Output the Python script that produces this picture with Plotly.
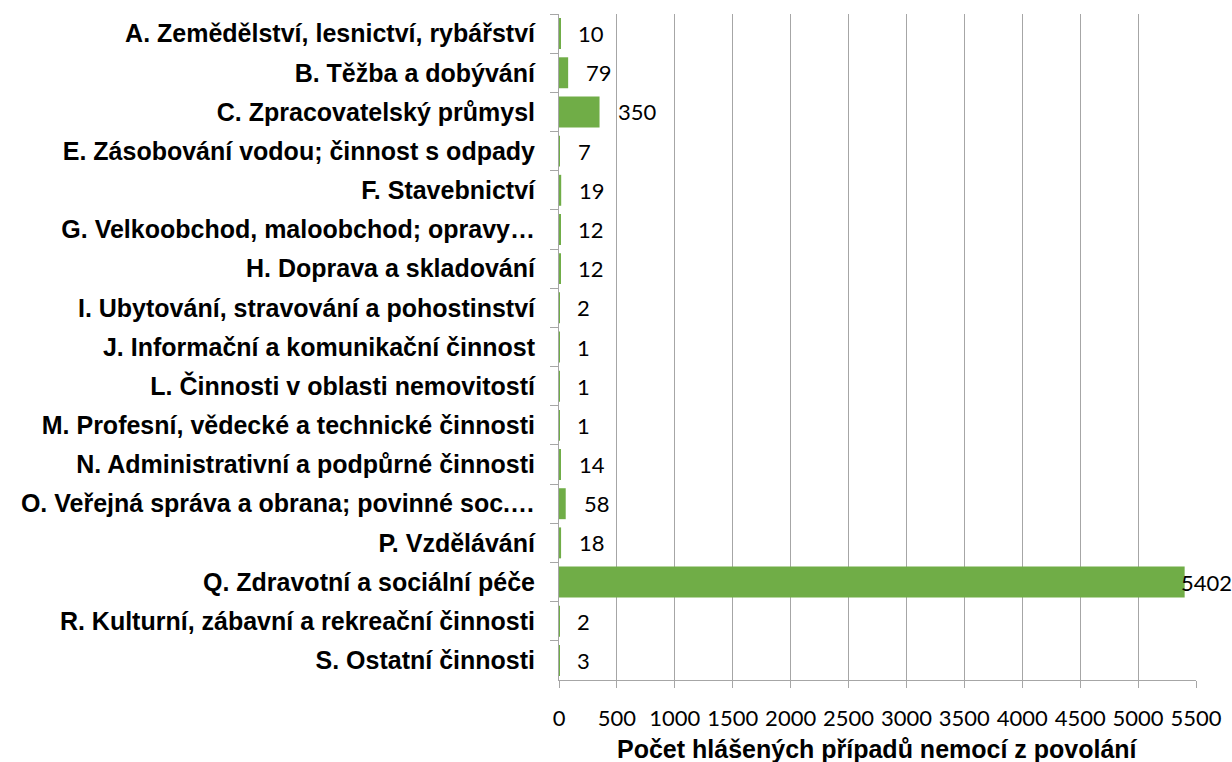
import plotly.graph_objects as go

categories = [
    "A. Zemědělství, lesnictví, rybářství",
    "B. Těžba a dobývání",
    "C. Zpracovatelský průmysl",
    "E. Zásobování vodou; činnost s odpady",
    "F. Stavebnictví",
    "G. Velkoobchod, maloobchod; opravy…",
    "H. Doprava a skladování",
    "I. Ubytování, stravování a pohostinství",
    "J. Informační a komunikační činnost",
    "L. Činnosti v oblasti nemovitostí",
    "M. Profesní, vědecké a technické činnosti",
    "N. Administrativní a podpůrné činnosti",
    "O. Veřejná správa a obrana; povinné soc.…",
    "P. Vzdělávání",
    "Q. Zdravotní a sociální péče",
    "R. Kulturní, zábavní a rekreační činnosti",
    "S. Ostatní činnosti",
]
values = [10, 79, 350, 7, 19, 12, 12, 2, 1, 1, 1, 14, 58, 18, 5402, 2, 3]
x_ticks = list(range(0, 5501, 500))
x_title = "Počet hlášených případů nemocí z povolání"

XMAX = 5500
GREEN = "#70AD47"
GRID = "#A6A6A6"
LABEL_FONT = "'Liberation Sans', Arial, sans-serif"
NUM_FONT = "Lato, 'Open Sans', sans-serif"

fig = go.Figure()
fig.add_trace(go.Bar(
    y=categories, x=values, orientation="h",
    marker=dict(color=GREEN, line=dict(width=0)),
    hoverinfo="x+y",
))

for cat, v in zip(categories, values):
    near_end = v > 0.95 * XMAX
    fig.add_annotation(
        x=v, y=cat, xref="x", yref="y",
        text=str(v), showarrow=False,
        xanchor="left", yanchor="middle",
        xshift=-6 if near_end else 16,
        font=dict(family=NUM_FONT, size=22, color="#000000"),
    )

# axis title
fig.add_annotation(
    x=0.5, y=0, xref="paper", yref="paper",
    text=x_title, showarrow=False,
    xanchor="center", yanchor="top", yshift=-53,
    font=dict(family=LABEL_FONT, size=25, color="#000000", weight="bold"),
)

fig.update_layout(
    width=1232, height=762,
    margin=dict(l=559, r=36, t=14, b=82),
    paper_bgcolor="white", plot_bgcolor="white",
    bargap=0.21,
    showlegend=False,
)
fig.update_xaxes(
    range=[0, XMAX], tickvals=x_ticks, ticktext=[str(t) for t in x_ticks],
    automargin=False,
    showgrid=True, gridcolor=GRID, gridwidth=1,
    showline=True, linecolor=GRID, linewidth=1,
    ticks="outside", ticklen=7, tickcolor=GRID,
    ticklabelstandoff=12,
    zeroline=False,
    tickfont=dict(family=NUM_FONT, size=22, color="#000000"),
)
fig.update_yaxes(
    autorange="reversed",
    automargin=False,
    showgrid=False,
    showline=True, linecolor=GRID, linewidth=1,
    ticks="outside", ticklen=8, tickcolor=GRID, tickson="boundaries",
    ticklabelstandoff=18,
    tickfont=dict(family=LABEL_FONT, size=25, color="#000000", weight="bold"),
)

fig.write_html(
    "out.html",
    config={"displayModeBar": False},
    post_script="document.body.style.margin='0';document.body.style.overflow='hidden';",
)
